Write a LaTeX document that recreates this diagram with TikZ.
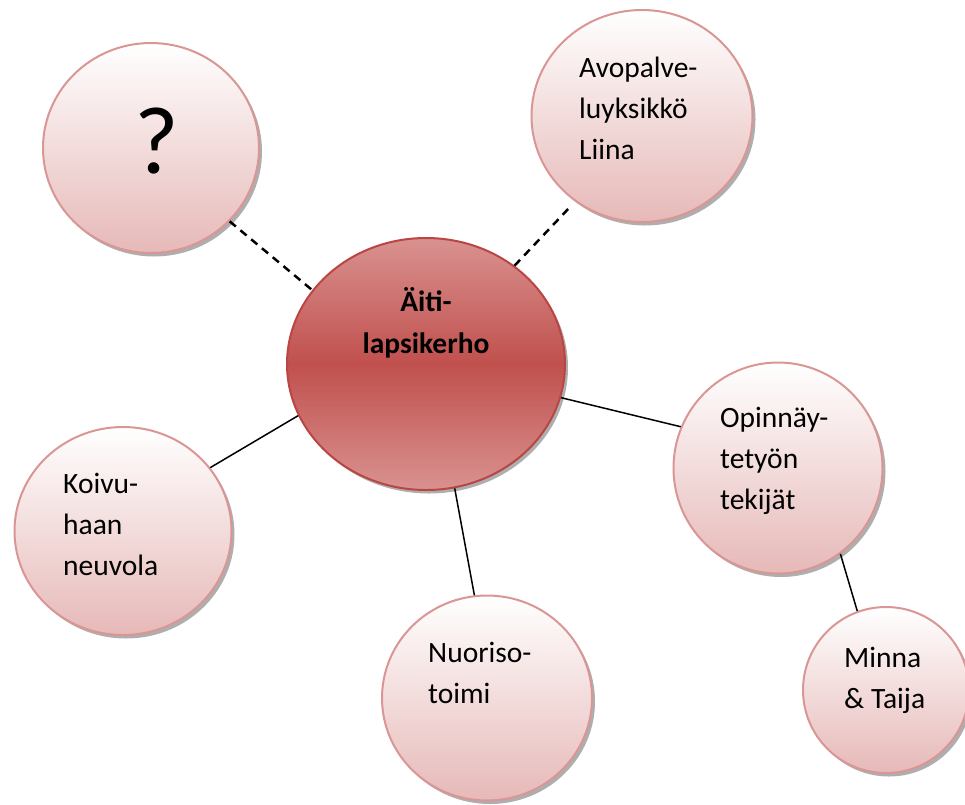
\documentclass[tikz,border=0pt]{standalone}
\usepackage{fontspec}
\setmainfont{Carlito}
\usetikzlibrary{shapes.geometric,shadows}
\definecolor{ringc}{RGB}{217,150,148}
\definecolor{lowc}{RGB}{230,185,184}
\definecolor{midc}{RGB}{192,80,77}
\definecolor{edgec}{RGB}{185,70,67}
\definecolor{hic}{RGB}{217,146,144}
\tikzset{
  bubble/.style={ellipse, draw=ringc, line width=2pt, top color=white, bottom color=lowc,
    drop shadow={shadow xshift=3pt, shadow yshift=-3.5pt, fill=black!45, opacity=0.7}},
  hub/.style={ellipse, draw=edgec, line width=2pt, top color=hic, bottom color=hic, middle color=midc,
    drop shadow={shadow xshift=3pt, shadow yshift=-3.5pt, fill=black!45, opacity=0.7}},
  label/.style={anchor=base west, align=left, inner sep=0pt, font=\fontsize{29.5}{41}\selectfont},
  solidlink/.style={line width=1.5pt, black},
  dashlink/.style={line width=2.5pt, black, dash pattern=on 8pt off 6pt}
}
\begin{document}
\begin{tikzpicture}[x=1pt,y=-1pt]
\useasboundingbox (0,0) rectangle (965,804);
\clip (0,0) rectangle (965,804);
% shapes
\node[bubble, minimum width=216pt, minimum height=210pt] (q) at (151,148) {};
\node[bubble, minimum width=221pt, minimum height=212pt] (avo) at (642,116) {};
\node[bubble, minimum width=209pt, minimum height=211pt] (opin) at (778,468) {};
\node[bubble, minimum width=217pt, minimum height=208pt] (koivu) at (123,531) {};
\node[bubble, minimum width=210pt, minimum height=205pt] (nuori) at (487,698) {};
\node[bubble, minimum width=166pt, minimum height=166pt] (minna) at (886,690) {};
\node[hub, minimum width=278pt, minimum height=252pt] (ctr) at (426,364) {};
% connectors
\draw[dashlink] (q.-43) -- (ctr.147);
\draw[dashlink, shorten >=8pt] (ctr.48) -- (avo.-128);
\draw[solidlink] (ctr.-158) -- (koivu.36);
\draw[solidlink] (ctr.-77) -- (nuori.97);
\draw[solidlink] (ctr.-14) -- (opin.157);
\draw[solidlink] (opin.-54) -- (minna.110);
% texts (anchored at the baseline of their last line)
\node[anchor=base, inner sep=0pt, font=\fontsize{96}{110}\selectfont] (qT) at (157,173) {?};
\node[label] (avoT) at (579,159) {Avopalve-\\luyksikkö\\Liina};
\node[label] (opinT) at (720,509) {Opinnäy-\\tetyön\\tekijät};
\node[label] (koivuT) at (63,575) {Koivu-\\haan\\neuvola};
\node[label] (nuoriT) at (428,703) {Nuoriso-\\toimi};
\node[label] (minnaT) at (844,708) {Minna\\\&~Taija};
\node[anchor=base, align=center, inner sep=0pt, font=\fontsize{29.5}{42}\selectfont\bfseries] (ctrT) at (426,353) {Äiti-\\lapsikerho};
\end{tikzpicture}
\end{document}
